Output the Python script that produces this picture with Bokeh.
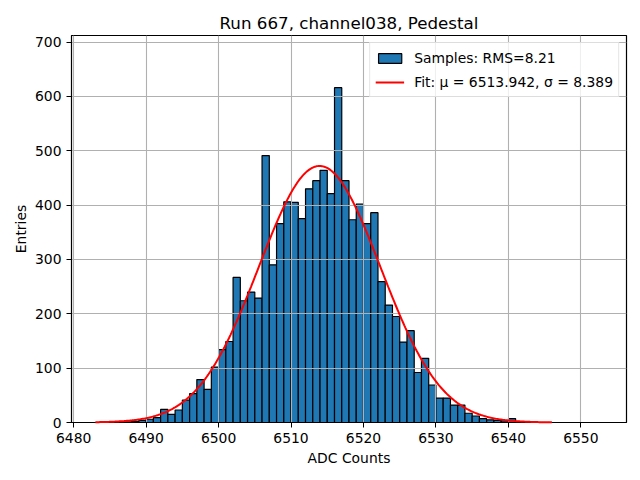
import numpy as np
from bokeh.plotting import figure
from bokeh.models import Range1d, Legend, LegendItem, FixedTicker
from bokeh.embed import file_html
from bokeh.resources import INLINE

# ---- data ----
bin_start = 6483
bin_width = 1
counts = [0, 0, 0, 1, 1, 2, 4, 6, 9,            # 6483..6491
          24, 15, 23, 41, 53, 79, 61, 102,     # 6492..6499
          134, 149, 267, 224, 240, 229, 491, 290, 366, 406,   # 6500..6509
          405, 375, 430, 445, 464, 421, 616, 445, 373, 402,   # 6510..6519
          366, 386, 259, 216, 195, 148, 169, 92, 118, 69,     # 6520..6529
          45, 45, 32, 32, 17, 12, 7, 5, 4, 3,                 # 6530..6539
          7, 1, 0, 0, 0, 0, 0, 0, 0, 0, 0, 0, 0]              # 6540..6552
fit_mu = 6513.942
fit_sigma = 8.389
fit_amp = 472.0
fit_x_min, fit_x_max = 6483.0, 6546.0
rms = 8.21
x_ticks = [6480, 6490, 6500, 6510, 6520, 6530, 6540, 6550]
y_ticks = [0, 100, 200, 300, 400, 500, 600, 700]

left = [bin_start + i * bin_width for i in range(len(counts))]
right = [l + bin_width for l in left]
bottom = [0] * len(counts)

fx = np.linspace(fit_x_min, fit_x_max, 400)
fy = fit_amp * np.exp(-0.5 * ((fx - fit_mu) / fit_sigma) ** 2)

FONT = "DejaVu Sans"
FS = "13.9px"

p = figure(width=632, height=472, output_backend="svg", toolbar_location=None,
           x_range=Range1d(6479.7, 6556.3), y_range=Range1d(0, 712),
           min_border_left=71, min_border_right=6, min_border_top=35, min_border_bottom=50)

p.title.text = "Run 667, channel038, Pedestal"
p.title.align = "center"
p.title.text_font = FONT
p.title.text_font_size = "16.7px"
p.title.text_font_style = "normal"
p.title.text_color = "black"
p.title.standoff = 6

bars = p.quad(left=left, right=right, bottom=bottom, top=counts,
              fill_color="#1f77b4", line_color="black", line_width=1.2)
bars.level = "underlay"
line = p.line(fx, fy, line_color="red", line_width=2)
line.level = "annotation"

p.xaxis.ticker = FixedTicker(ticks=x_ticks)
p.yaxis.ticker = FixedTicker(ticks=y_ticks)
p.xaxis.axis_label = "ADC Counts"
p.yaxis.axis_label = "Entries"
for ax in (p.xaxis, p.yaxis):
    ax.axis_label_text_font = FONT
    ax.axis_label_text_font_size = FS
    ax.axis_label_text_font_style = "normal"
    ax.axis_label_text_color = "black"
    ax.major_label_text_font = FONT
    ax.major_label_text_font_size = FS
    ax.major_label_text_color = "black"
    ax.major_tick_in = 0
    ax.major_tick_out = 5
    ax.minor_tick_line_color = None
    ax.axis_line_color = "black"
    ax.major_tick_line_color = "black"
p.xaxis.axis_label_standoff = 4
p.yaxis.axis_label_standoff = 3

p.grid.grid_line_color = "#b0b0b0"
p.grid.grid_line_width = 1.1
p.grid.level = "glyph"

p.outline_line_color = "black"
p.outline_line_width = 1.2
p.background_fill_color = "white"
p.border_fill_color = "white"

legend = Legend(items=[
    LegendItem(label=f"Samples: RMS={rms}", renderers=[bars]),
    LegendItem(label=f"Fit: μ = {fit_mu}, σ = {fit_sigma}", renderers=[line]),
], location="top_right")
legend.label_text_font = FONT
legend.label_text_font_size = FS
legend.label_text_color = "black"
legend.border_line_color = "#cccccc"
legend.border_line_width = 1
legend.background_fill_alpha = 0.8
legend.margin = 7
legend.padding = 5
legend.spacing = 5
legend.label_height = 19
legend.glyph_width = 29
legend.glyph_height = 12
legend.label_standoff = 10
p.add_layout(legend)

open("out.html", "w").write(file_html(p, INLINE))
